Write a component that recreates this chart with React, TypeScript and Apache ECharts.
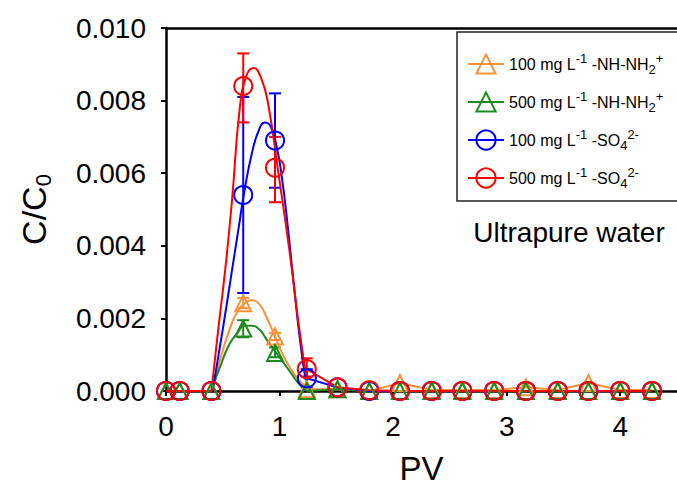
import React, { useEffect, useRef } from "react";
import * as echarts from "echarts";

const FONT = "'Liberation Sans', Arial, Helvetica, sans-serif";

// Measured pore volumes (PV)
const PV = [0, 0.12, 0.4, 0.68, 0.96, 1.24, 1.51, 1.79, 2.06, 2.34, 2.61, 2.89, 3.17, 3.45, 3.72, 4.0, 4.28];

// Measured C/C0 values
const NH_100 = [0, 0, 0, 0.00242, 0.0015, 0.00005, 0.00005, 0, 0.00022, 0.00003, 0.00003, 0.00003, 0.0001, 0.00003, 0.00022, 0.00003, 0.00003];
const NH_500 = [0, 0, 0, 0.00172, 0.00105, 0, 0.00005, 0, 0, 0, 0, 0, 0, 0, 0, 0, 0];
const SO4_100 = [0, 0, 0, 0.0054, 0.0069, 0.00035, 0.0001, 0, 0, 0, 0, 0, 0, 0, 0, 0, 0];
const SO4_500 = [0, 0, 0, 0.0084, 0.00615, 0.0006, 0.0001, 0.00002, 0, 0, 0, 0, 0, 0, 0, 0, 0];

// Error bars: [PV, low, high]
const NH_100_ERR = [[0.68, 0.00228, 0.00256], [0.96, 0.0014, 0.0016]];
const NH_500_ERR = [[0.68, 0.00148, 0.00195], [0.96, 0.00093, 0.0012]];
const SO4_100_ERR = [[0.68, 0.0027, 0.0081], [0.96, 0.0056, 0.0082], [1.24, 0.0001, 0.0006]];
const SO4_500_ERR = [[0.68, 0.0074, 0.0093], [0.96, 0.0052, 0.007], [1.24, 0.0004, 0.0009]];

// Fitted curves
const NH_FIT_X = [0.4, 0.48, 0.56, 0.63, 0.69, 0.75, 0.82, 0.89, 0.96, 1.03, 1.1, 1.17, 1.24];
const NH_100_FIT = [0, 0.0009, 0.0017, 0.0022, 0.0024, 0.0025, 0.0024, 0.002, 0.0015, 0.001, 0.0006, 0.0003, 0.0001];
const NH_500_FIT = [0, 0.0007, 0.0013, 0.0016, 0.0018, 0.0018, 0.0017, 0.0014, 0.0011, 0.0008, 0.0005, 0.0002, 0];
const SO4_100_FIT_X = [0.41, 0.5, 0.58, 0.64, 0.69, 0.76, 0.82, 0.87, 0.92, 0.97, 1.02, 1.07, 1.12, 1.18, 1.23];
const SO4_100_FIT = [0, 0.0017, 0.0033, 0.0045, 0.0055, 0.0066, 0.0072, 0.0074, 0.0073, 0.0068, 0.0059, 0.0046, 0.0031, 0.0014, 0.0003];
const SO4_500_FIT_X = [0.4, 0.46, 0.52, 0.58, 0.65, 0.71, 0.77, 0.84, 0.9, 0.99, 1.09, 1.17, 1.23];
const SO4_500_FIT = [0, 0.0017, 0.0033, 0.0052, 0.0078, 0.0087, 0.0089, 0.0086, 0.0079, 0.006, 0.0038, 0.0018, 0.0005];

// indices after which the measured-point line is broken (peak points are joined by the fitted curve instead)
const BREAK_AFTER = [2, 3, 4];

const NAMES = [
  "100 mg L-1 -NH-NH2+",
  "500 mg L-1 -NH-NH2+",
  "100 mg L-1 -SO42-",
  "500 mg L-1 -SO42-",
];
const RICH_NAMES: Record<string, string> = {
  [NAMES[0]]: "{n|100 mg L}{sup|-1}{n| -NH-NH}{sub|2}{sup|+}",
  [NAMES[1]]: "{n|500 mg L}{sup|-1}{n| -NH-NH}{sub|2}{sup|+}",
  [NAMES[2]]: "{n|100 mg L}{sup|-1}{n| -SO}{sub|4}{sup|2-}",
  [NAMES[3]]: "{n|500 mg L}{sup|-1}{n| -SO}{sub|4}{sup|2-}",
};

const GROUPS = [
  { name: NAMES[0], color: "#F7923A", symbol: "triangle", size: 16, values: NH_100, err: NH_100_ERR, fitX: NH_FIT_X, fitY: NH_100_FIT },
  { name: NAMES[1], color: "#1E8A1E", symbol: "triangle", size: 16, values: NH_500, err: NH_500_ERR, fitX: NH_FIT_X, fitY: NH_500_FIT },
  { name: NAMES[2], color: "#0000FF", symbol: "circle", size: 18, values: SO4_100, err: SO4_100_ERR, fitX: SO4_100_FIT_X, fitY: SO4_100_FIT },
  { name: NAMES[3], color: "#FF0000", symbol: "circle", size: 18, values: SO4_500, err: SO4_500_ERR, fitX: SO4_500_FIT_X, fitY: SO4_500_FIT },
];

const LW = 2;

function buildSeries() {
  const series: any[] = [];
  GROUPS.forEach((g) => {
    const pts: any[] = [];
    PV.forEach((x, i) => {
      pts.push([x, g.values[i]]);
      if (BREAK_AFTER.includes(i)) pts.push([x, null]);
    });
    series.push({
      type: "line",
      smooth: 0.5,
      data: g.fitX.map((x, i) => [x, g.fitY[i]]),
      showSymbol: false,
      symbol: "none",
      lineStyle: { color: g.color, width: LW },
      silent: true,
    });
    series.push({
      type: "custom",
      data: g.err,
      encode: { x: 0, y: [1, 2] },
      renderItem: (_p: any, api: any) => {
        const x = api.value(0);
        const a = api.coord([x, api.value(1)]);
        const b = api.coord([x, api.value(2)]);
        const w = 6;
        const st = { stroke: g.color, lineWidth: LW };
        return {
          type: "group",
          children: [
            { type: "line", shape: { x1: a[0], y1: a[1], x2: b[0], y2: b[1] }, style: st },
            { type: "line", shape: { x1: a[0] - w, y1: a[1], x2: a[0] + w, y2: a[1] }, style: st },
            { type: "line", shape: { x1: b[0] - w, y1: b[1], x2: b[0] + w, y2: b[1] }, style: st },
          ],
        };
      },
      silent: true,
    });
    series.push({
      name: g.name,
      type: "line",
      data: pts,
      connectNulls: false,
      symbol: g.symbol,
      symbolSize: g.size,
      showAllSymbol: true,
      lineStyle: { color: g.color, width: LW },
      itemStyle: { color: "rgba(255,255,255,0)", borderColor: g.color, borderWidth: LW },
      silent: true,
    });
  });
  return series;
}

export default function App() {
  const ref = useRef<HTMLDivElement>(null);
  useEffect(() => {
    if (!ref.current) return;
    const chart = echarts.init(ref.current, undefined, { renderer: "svg" });
    const axisLine = { show: true, lineStyle: { color: "#000", width: 2.5 } };
    chart.setOption({
      animation: false,
      backgroundColor: "#fff",
      textStyle: { fontFamily: FONT },
      grid: { left: 166, right: 0, top: 28, bottom: 98, containLabel: false, outerBoundsMode: "none" },
      xAxis: [
        {
          type: "value",
          min: 0,
          max: 4.5,
          interval: 1,
          axisLine,
          axisTick: { show: true, length: 5, lineStyle: { color: "#000", width: 2 }, customValues: [0, 1, 2, 3, 4] },
          axisLabel: { fontSize: 28, color: "#000", margin: 21, fontFamily: FONT, customValues: [0, 1, 2, 3, 4] },
          splitLine: { show: false },
          name: "PV",
          nameLocation: "middle",
          nameGap: 62,
          nameTextStyle: { fontSize: 33, lineHeight: 30, color: "#000", fontFamily: FONT },
        },
        {
          type: "value",
          position: "top",
          min: 0,
          max: 4.5,
          axisLine,
          axisTick: { show: false },
          axisLabel: { show: false },
          splitLine: { show: false },
        },
      ],
      yAxis: {
        type: "value",
        min: 0,
        max: 0.01,
        interval: 0.002,
        axisLine,
        axisTick: { show: true, length: 5, lineStyle: { color: "#000", width: 2 } },
        axisLabel: { fontSize: 28, color: "#000", margin: 20, fontFamily: FONT, formatter: (v: number) => v.toFixed(3) },
        splitLine: { show: false },
        name: "{a|C/C}{b|0}",
        nameLocation: "middle",
        nameRotate: 90,
        nameGap: 112,
        nameTextStyle: {
          fontFamily: FONT,
          color: "#000",
          rich: {
            a: { fontSize: 34, lineHeight: 40, color: "#000", fontFamily: FONT },
            b: { fontSize: 22, lineHeight: 20, verticalAlign: "bottom", color: "#000", fontFamily: FONT },
          },
        },
      },
      legend: {
        orient: "vertical",
        left: 457,
        top: 32,
        itemWidth: 36,
        itemHeight: 24,
        itemGap: 14,
        padding: [20, 17, 11, 10],
        borderColor: "#222",
        borderWidth: 1.5,
        data: NAMES,
        selectedMode: false,
        formatter: (name: string) => RICH_NAMES[name],
        textStyle: {
          fontFamily: FONT,
          color: "#000",
          fontSize: 16,
          rich: {
            n: { fontSize: 16, lineHeight: 24, color: "#000", fontFamily: FONT },
            sup: { fontSize: 13, lineHeight: 12, verticalAlign: "top", color: "#000", fontFamily: FONT },
            sub: { fontSize: 13, lineHeight: 12, verticalAlign: "bottom", color: "#000", fontFamily: FONT },
          },
        },
      },
      graphic: [
        {
          type: "text",
          x: 569,
          y: 232,
          style: { text: "Ultrapure water", fontSize: 28, fontFamily: FONT, fill: "#000", align: "center", verticalAlign: "middle" },
        },
      ],
      series: buildSeries(),
    });
    return () => chart.dispose();
  }, []);
  return <div ref={ref} style={{ position: "fixed", left: 0, top: 0, width: 677, height: 489 }} />;
}
